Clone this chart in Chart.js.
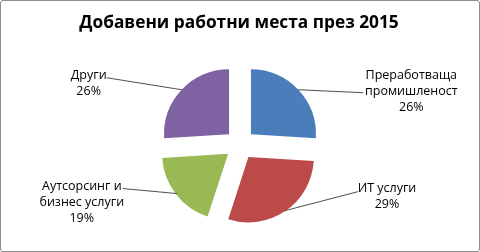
<!DOCTYPE html>
<html><head><meta charset="utf-8">
<script src="https://cdn.jsdelivr.net/npm/chart.js@4/dist/chart.umd.min.js"></script>
<style>
html,body{margin:0;padding:0;background:#fff;}
#wrap{position:relative;width:478px;height:250px;border:1px solid #8c8c8c;border-radius:3px;overflow:hidden;}
canvas{display:block;}
</style></head><body>
<div id="wrap"><canvas id="c" width="478" height="250"></canvas></div>
<script>
const title = 'Добавени работни места през 2015';
const categories = [['Преработваща','промишленост'], ['ИТ услуги'], ['Аутсорсинг и','бизнес услуги'], ['Други']];
const values = [26, 29, 19, 26];
const colors = ['#4a7ebb', '#bb4a48', '#98b954', '#7e62a1'];
// label placement relative to slice edge midpoint: [lineEndDx, lineEndDy, textCenterDx, textCenterDy]
const labelPlacement = [[65, 3, 113, 2], [73, -19, 102, -14], [-54, -5, -95, 9], [-75, -12, -93, -6]];

const labelPlugin = {
  id: 'pieLabels',
  afterDatasetsDraw(chart) {
    const ctx = chart.ctx;
    const meta = chart.getDatasetMeta(0);
    const ds = chart.data.datasets[0];
    const total = ds.data.reduce((a, b) => a + b, 0);
    ctx.save();
    ctx.font = 'bold 17.3px "Open Sans"';
    ctx.fillStyle = '#000';
    ctx.textAlign = 'center';
    ctx.textBaseline = 'middle';
    ctx.fillText(title, 238, 22);
    meta.data.forEach((arc, i) => {
      const p = arc.getProps(['x', 'y', 'startAngle', 'endAngle', 'outerRadius'], true);
      const mid = (p.startAngle + p.endAngle) / 2;
      const off = (arc.options.offset || 0) / 4; // Chart.js v4 draws arcs displaced by offset/4
      const cx = p.x + Math.cos(mid) * off, cy = p.y + Math.sin(mid) * off;
      const ex = cx + Math.cos(mid) * p.outerRadius, ey = cy + Math.sin(mid) * p.outerRadius;
      const lp = labelPlacement[i];
      ctx.strokeStyle = '#222';
      ctx.lineWidth = 0.8;
      ctx.beginPath();
      ctx.moveTo(ex, ey);
      ctx.lineTo(ex + lp[0], ey + lp[1]);
      ctx.stroke();
      const lines = categories[i].concat([Math.round(ds.data[i] / total * 100) + '%']);
      const lh = 16;
      const tx = ex + lp[2], ty = ey + lp[3] - (lines.length - 1) * lh / 2;
      ctx.font = '12.5px "Open Sans"';
      ctx.fillStyle = '#000';
      lines.forEach((t, k) => ctx.fillText(t, tx, ty + k * lh));
    });
    ctx.restore();
  }
};

new Chart(document.getElementById('c'), {
  type: 'pie',
  data: {
    labels: categories.map(c => c.join(' ')),
    datasets: [{ data: values, backgroundColor: colors, borderWidth: 0, offset: 60, radius: 65 }]
  },
  options: {
    responsive: false,
    animation: false,
    layout: { padding: { top: 50, bottom: 13, left: 20, right: 20 } },
    plugins: { legend: { display: false }, title: { display: false }, tooltip: { enabled: false } }
  },
  plugins: [labelPlugin]
});
</script>
</body></html>
